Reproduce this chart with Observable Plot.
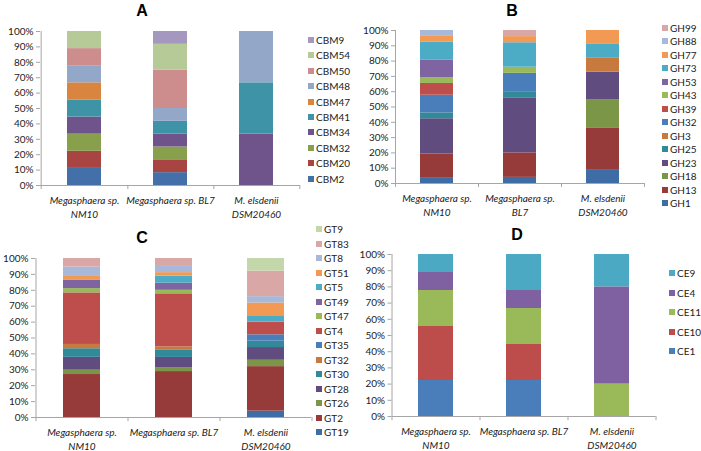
<!DOCTYPE html>
<html><head><meta charset="utf-8">
<script src="https://cdn.jsdelivr.net/npm/d3@7"></script>
<script src="https://cdn.jsdelivr.net/npm/@observablehq/plot@0.6"></script>
<style>
body{margin:0;background:#fff;}
#root{position:relative;width:701px;height:451px;font-family:Lato,"Open Sans",sans-serif;color:#000;overflow:hidden;background:#fff}
.panel{position:absolute}
.panel svg{position:absolute;left:0;top:0;overflow:visible}
.title{position:absolute;font-family:"Liberation Sans",Arial,sans-serif;font-weight:bold;font-size:16px;transform:translate(-50%,-50%);line-height:1}
.item{position:absolute;display:flex;align-items:center;height:12px;transform:translateY(-50%);font-size:10px;white-space:nowrap;color:#222}
.sw{width:6px;height:6px;margin-right:2px;flex:none}
</style></head><body><div id="root"></div>
<script>
// categories
const strains = ["NM10", "BL7", "DSM20460"];
const labels2 = ["Megasphaera sp.\nNM10", "Megasphaera sp. BL7", "M. elsdenii\nDSM20460"];
const labels3 = ["Megasphaera sp.\nNM10", "Megasphaera sp.\nBL7", "M. elsdenii\nDSM20460"];
const yTicks = [0, 0.1, 0.2, 0.3, 0.4, 0.5, 0.6, 0.7, 0.8, 0.9, 1];

// Panel A: CBM families (gene counts per strain)
const cbmFamilies = ["CBM2","CBM20","CBM32","CBM34","CBM41","CBM47","CBM48","CBM50","CBM54","CBM9"];
const cbmNM10 = [1,1,1,1,1,1,1,1,1,0];
const cbmBL7  = [1,1,1,1,1,0,1,3,2,1];
const cbmDSM  = [0,0,0,1,1,0,1,0,0,0];
const cbmColors = ["#4370A9","#A84442","#88A04C","#6E548B","#3F93A6","#D9843F","#93A7C9","#CC8D8C","#B6CA97","#A598BE"];

// Panel B: GH families
const ghFamilies = ["GH1","GH13","GH18","GH23","GH25","GH3","GH32","GH39","GH43","GH53","GH73","GH77","GH88","GH99"];
const ghNM10 = [1,4,0,6,1,0,3,2,1,3,3,1,1,0];
const ghBL7  = [1,4,0,9,1,0,3,0,1,0,4,1,0,1];
const ghDSM  = [1,3,2,2,0,1,0,0,0,0,1,1,0,0];
const ghColors = ["#3E6CA4","#963B39","#7A9646","#604C7F","#31899A","#C7793E","#4A7EBA","#BE4E4B","#99B95B","#7F64A2","#4CACC6","#F29A53","#A7B8D8","#D8A7A6"];

// Panel C: GT families
const gtFamilies = ["GT19","GT2","GT26","GT28","GT30","GT32","GT35","GT4","GT47","GT49","GT5","GT51","GT8","GT83","GT9"];
const gtNM10 = [0,10,1,3,2,1,0,12,1,2,0,1,2,2,0];
const gtBL7  = [0,13,1,3,2,1,0,15,1,2,2,1,2,2,0];
const gtDSM  = [1,7,1,2,1,0,1,2,0,0,1,2,1,4,2];
const gtColors = ["#3E6CA4","#963B39","#7A9646","#604C7F","#31899A","#C7793E","#4A7EBA","#BE4E4B","#99B95B","#7F64A2","#4CACC6","#F29A53","#A7B8D8","#D8A7A6","#C4D7AA"];

// Panel D: CE families
const ceFamilies = ["CE1","CE10","CE11","CE4","CE9"];
const ceNM10 = [2,3,2,1,1];
const ceBL7  = [2,2,2,1,2];
const ceDSM  = [0,0,1,3,1];
const ceColors = ["#4A7EBA","#BC4D4A","#9ABA59","#7F60A0","#4BA9C3"];

const root = document.getElementById("root");
const axisGray = "#a6a6a6";

function panel(cfg) {
  const {left, top, width, height, m, families, colors, values, labels, title, titleX, titleY, legX, legY0, legStep} = cfg;
  const div = document.createElement("div");
  div.className = "panel";
  Object.assign(div.style, {left: left + "px", top: top + "px", width: width + "px", height: height + "px"});
  root.appendChild(div);

  const data = [];
  strains.forEach((s, i) => families.forEach((f, j) => data.push({strain: s, family: f, n: values[i][j]})));
  const step = (width - m.l - m.r) / strains.length;
  const labelOf = new Map(strains.map((s, i) => [s, labels[i]]));

  const chart = Plot.plot({
    width, height,
    marginLeft: m.l, marginRight: m.r, marginTop: m.t, marginBottom: m.b,
    style: {fontFamily: "Lato, 'Open Sans', sans-serif", fontSize: "10px", background: "transparent", color: "#000", overflow: "visible"},
    x: {domain: strains, paddingInner: 0.6, paddingOuter: 0.3},
    y: {domain: [0, 1]},
    color: {domain: families, range: colors},
    marks: [
      Plot.barY(data, Plot.stackY({offset: "normalize", order: null}, {x: "strain", y: "n", fill: "family"})),
      Plot.ruleY([0], {stroke: axisGray}),
      Plot.ruleX([strains[0]], {x: d => d, y1: 0, y2: 1, dx: -step / 2, stroke: axisGray}),
      Plot.ruleX([strains[0]], {x: d => d, y1: 0, y2: -0.026, dx: -step / 2, stroke: axisGray}),
      Plot.ruleX(strains, {x: d => d, y1: 0, y2: -0.026, dx: step / 2, stroke: axisGray}),
      Plot.axisY({ticks: yTicks, tickFormat: d3.format(".0%"), tickSize: 4, tickPadding: 3, stroke: axisGray, fill: "#222", label: null}),
      Plot.axisX({tickSize: 0, tickPadding: 9, tickFormat: s => labelOf.get(s), fontStyle: "italic", lineHeight: 1.4, fill: "#222", label: null})
    ]
  });
  div.appendChild(chart);

  const t = document.createElement("div");
  t.className = "title";
  t.textContent = title;
  Object.assign(t.style, {left: titleX + "px", top: titleY + "px"});
  div.appendChild(t);

  families.slice().reverse().forEach((f, k) => {
    const it = document.createElement("div");
    it.className = "item";
    Object.assign(it.style, {left: legX + "px", top: (legY0 + k * legStep) + "px"});
    const sw = document.createElement("span");
    sw.className = "sw";
    sw.style.background = colors[families.indexOf(f)];
    const tx = document.createElement("span");
    tx.textContent = f;
    it.appendChild(sw); it.appendChild(tx);
    div.appendChild(it);
  });
}

panel({left: 0, top: 0, width: 350, height: 225, m: {l: 40, r: 50, t: 31, b: 40},
  families: cbmFamilies, colors: cbmColors, values: [cbmNM10, cbmBL7, cbmDSM], labels: labels2,
  title: "A", titleX: 142, titleY: 11, legX: 308, legY0: 40, legStep: 15.4});
panel({left: 350, top: 0, width: 351, height: 225, m: {l: 45, r: 57, t: 30, b: 42},
  families: ghFamilies, colors: ghColors, values: [ghNM10, ghBL7, ghDSM], labels: labels3,
  title: "B", titleX: 162, titleY: 11, legX: 312, legY0: 28, legStep: 13.46});
panel({left: 0, top: 225, width: 350, height: 226, m: {l: 35, r: 39, t: 33, b: 34},
  families: gtFamilies, colors: gtColors, values: [gtNM10, gtBL7, gtDSM], labels: labels2,
  title: "C", titleX: 142, titleY: 13, legX: 316, legY0: 4, legStep: 14.5});
panel({left: 350, top: 225, width: 351, height: 226, m: {l: 41.5, r: 45.5, t: 29, b: 35},
  families: ceFamilies, colors: ceColors, values: [ceNM10, ceBL7, ceDSM], labels: labels2,
  title: "D", titleX: 167, titleY: 10, legX: 319, legY0: 48, legStep: 19.5});
</script></body></html>
